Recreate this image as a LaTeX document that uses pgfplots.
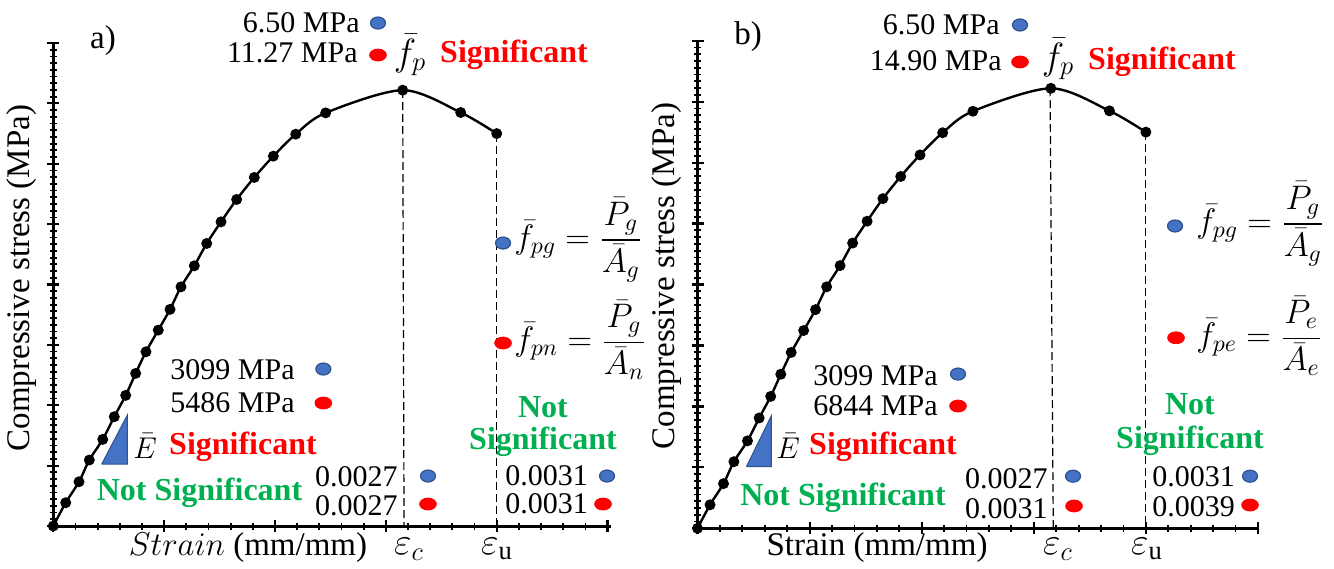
\RequirePackage{fix-cm}
\documentclass[border=0pt]{standalone}
\usepackage{amsmath}
\usepackage{fontspec}
\setmainfont{Liberation Serif}
\usepackage{pgfplots}
\usepackage{pgfplotstable}
\pgfplotsset{compat=1.18}

\definecolor{dotblue}{HTML}{4472C4}
\definecolor{dotedge}{HTML}{2F528F}
\definecolor{sigred}{HTML}{FF0000}
\definecolor{nsgreen}{HTML}{00B050}

% stress-strain curve (axis units: 1 major tick = 1)
\pgfplotstableread{
x y
0 0
0.112 0.386
0.232 0.733
0.325 1.093
0.446 1.435
0.550 1.810
0.653 2.164
0.743 2.528
0.836 2.886
0.947 3.245
1.053 3.588
1.152 3.962
1.272 4.310
1.384 4.680
1.513 5.038
1.654 5.409
1.813 5.773
1.985 6.126
2.187 6.490
2.457 6.843
3.152 7.219
3.675 6.849
4.000 6.500
}\curve

\pgfplotsset{
  stressframe/.style={
    scale only axis, anchor=south west, clip=false,
    xmin=0, ymin=0, ymax=8,
    axis lines=left, axis line style={-, line width=1.5pt},
    xtick={0,...,5}, ytick={0,...,8},
    minor x tick num=4, minor y tick num=8,
    xticklabels={}, yticklabels={},
    tick align=center, major tick length=6pt, minor tick length=3.5pt,
    tick style={black}, major tick style={line width=1.1pt},
    minor tick style={line width=0.9pt},
  },
  dotB/.style={only marks, mark=*, mark size=3pt,
    mark options={xscale=1.25, fill=dotblue, draw=dotedge, line width=0.6pt}},
  dotR/.style={only marks, mark=*, mark size=3pt,
    mark options={xscale=1.4, fill=sigred, draw=sigred}},
  guide/.style={black, line width=0.6pt, dash pattern=on 4pt off 2pt},
}

\begin{document}
\begin{tikzpicture}
\useasboundingbox (0,0) rectangle (667pt,-284pt);

% ---- panel a
\begin{axis}[stressframe, at={(26.65pt,-263pt)}, width=278.8pt, height=241.5pt, xmax=5.03]
\addplot[guide] coordinates {(3.152,7.219) (3.164,0)};
\addplot[guide] coordinates {(4.0,6.5) (4.0,0)};
\addplot[black, line width=1.2pt, smooth, mark=*, mark size=2.1pt] table {\curve};
\addplot[fill=dotblue, draw=dotedge, line width=0.5pt] coordinates {(0.437,1.027) (0.668,1.027) (0.668,1.838) (0.437,1.027)};
\addplot[dotB] coordinates {(2.929,8.331) (2.436,2.600) (3.380,0.828) (4.995,0.828) (4.057,4.687)};
\addplot[dotR] coordinates {(2.929,7.801) (2.436,2.037) (3.380,0.364) (4.959,0.364) (4.057,3.031)};
\end{axis}

% ---- panel b
\begin{axis}[stressframe, at={(348.75pt,-264.15pt)}, width=280.25pt, height=243.8pt, xmax=5.0]
\addplot[guide] coordinates {(3.145,7.22) (3.174,0)};
\addplot[guide] coordinates {(4.0,6.5) (4.0,0)};
\addplot[black, line width=1.2pt, smooth, mark=*, mark size=2.1pt] table {\curve};
\addplot[fill=dotblue, draw=dotedge, line width=0.5pt] coordinates {(0.437,1.014) (0.660,1.014) (0.660,1.851) (0.437,1.014)};
\addplot[dotB] coordinates {(2.877,8.258) (2.324,2.531) (3.350,0.855) (4.929,0.855) (4.260,4.960)};
\addplot[dotR] coordinates {(2.877,7.651) (2.324,2.006) (3.359,0.366) (4.929,0.382) (4.269,3.126)};
\end{axis}

% ---- text, in pixel units of the reference
\begin{scope}[x=0.5pt, y=-0.5pt,
  val/.style={font=\fontsize{15}{18}\selectfont, inner sep=0pt},
  lab/.style={font=\fontsize{16.5}{19}\selectfont, inner sep=0pt},
  mth/.style={font=\fontsize{17}{20}\selectfont, inner sep=0pt},
  sym/.style={font=\fontsize{19}{22}\selectfont, inner sep=0pt},
  esym/.style={font=\fontsize{15}{18}\selectfont, inner sep=0pt, anchor=west},
  sig/.style={font=\fontsize{16}{19}\selectfont\bfseries, text=sigred, inner sep=0pt},
  ns/.style={font=\fontsize{16}{19}\selectfont\bfseries, text=nsgreen, inner sep=0pt}]
% panel a
\node[lab] at (103,41) {a)};
\node[lab, rotate=90] at (22,278) {Compressive stress (MPa)};
\node[val, anchor=east] at (360,23) {6.50 MPa};
\node[val, anchor=east] at (358,53) {11.27 MPa};
\node[sym] at (410,55) {$\bar{f}_p$};
\node[sig] at (514,55) {Significant};
\node[mth, anchor=west] at (514,240) {$\bar{f}_{pg} = \dfrac{\bar{P}_g}{\bar{A}_g}$};
\node[mth, anchor=west] at (514,340) {$\bar{f}_{pn} = \dfrac{\bar{P}_g}{\bar{A}_n}$};
\node[ns] at (543,407) {Not};
\node[ns] at (543,442) {Significant};
\node[val, anchor=west] at (505,476) {0.0031};
\node[val, anchor=west] at (505,504) {0.0031};
\node[val, anchor=east] at (398,477) {0.0027};
\node[val, anchor=east] at (398,506) {0.0027};
\node[val, anchor=east] at (295,370) {3099 MPa};
\node[val, anchor=east] at (295,403) {5486 MPa};
\node[esym] at (133,446) {$\bar{E}$};
\node[sig] at (243,447) {Significant};
\node[ns] at (199.5,493) {Not Significant};
\node[lab] at (248,548) {$Strain$ (mm/mm)};
\node[sym] at (409,549) {$\varepsilon_c$};
\node[sym] at (497,549) {$\varepsilon_{\mathrm{u}}$};
% panel b
\node[lab] at (748,37) {b)};
\node[lab, rotate=90] at (667,276) {Compressive stress (MPa)};
\node[val, anchor=east] at (1000,25) {6.50 MPa};
\node[val, anchor=east] at (1002,61) {14.90 MPa};
\node[sym] at (1058,59) {$\bar{f}_p$};
\node[sig] at (1162,62) {Significant};
\node[mth, anchor=west] at (1196,224) {$\bar{f}_{pg} = \dfrac{\bar{P}_g}{\bar{A}_g}$};
\node[mth, anchor=west] at (1196,336) {$\bar{f}_{pe} = \dfrac{\bar{P}_e}{\bar{A}_e}$};
\node[ns] at (1190,404) {Not};
\node[ns] at (1190,441) {Significant};
\node[val, anchor=west] at (1152,477) {0.0031};
\node[val, anchor=west] at (1152,507) {0.0039};
\node[val, anchor=east] at (1048,479) {0.0027};
\node[val, anchor=east] at (1048,509) {0.0031};
\node[val, anchor=east] at (938,376) {3099 MPa};
\node[val, anchor=east] at (938,406) {6844 MPa};
\node[esym] at (776,446) {$\bar{E}$};
\node[sig] at (883,447) {Significant};
\node[ns] at (843,498) {Not Significant};
\node[lab] at (877,548) {Strain (mm/mm)};
\node[sym] at (1058,549) {$\varepsilon_c$};
\node[sym] at (1147,549) {$\varepsilon_{\mathrm{u}}$};
\end{scope}
\end{tikzpicture}
\end{document}
